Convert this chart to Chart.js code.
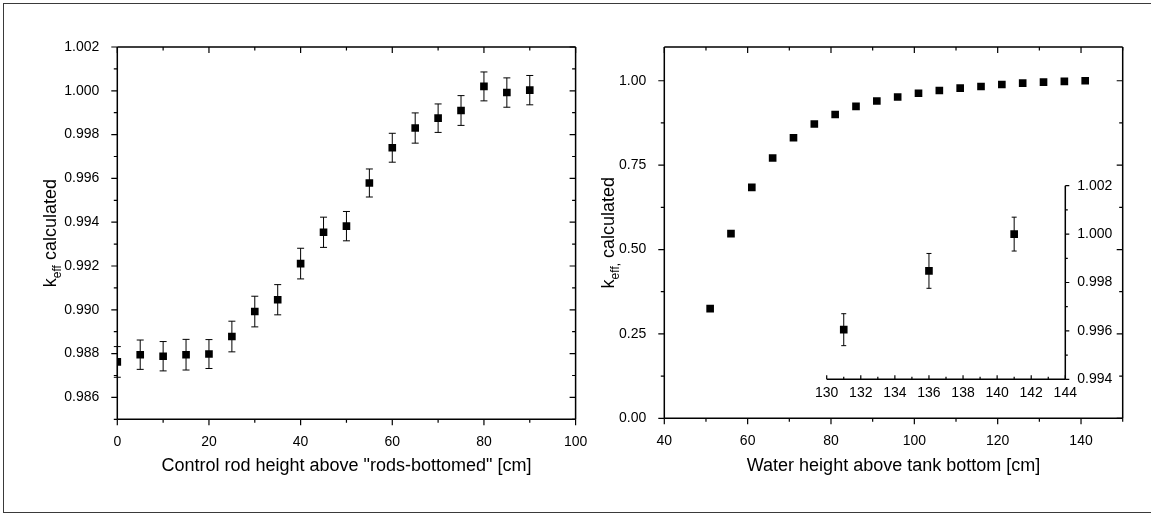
<!DOCTYPE html>
<html>
<head>
<meta charset="utf-8">
<script src="https://cdn.jsdelivr.net/npm/chart.js@4.4.0/dist/chart.umd.min.js"></script>
<style>
  html, body { margin: 0; padding: 0; background: #fff; }
  body { width: 1151px; height: 514px; position: relative; overflow: hidden; }
  #frame { position: absolute; left: 3px; top: 3px; width: 1160px; height: 508px; border: 1px solid #3a3a3a; }
  canvas { position: absolute; }
</style>
</head>
<body>
<div id="frame"></div>
<canvas id="chartRod" width="600" height="514" style="left:0;top:0"></canvas>
<canvas id="chartWater" width="551" height="514" style="left:600px;top:0"></canvas>
<canvas id="chartInset" width="391" height="260" style="left:760px;top:160px"></canvas>
<script>
// ---- data ----
const rodHeight = [0, 5, 10, 15, 20, 25, 30, 35, 40, 45, 50, 55, 60, 65, 70, 75, 80, 85, 90];
const rodKeff = [0.98762, 0.98795, 0.98788, 0.98795, 0.98798, 0.98878, 0.98992, 0.99046, 0.99211, 0.99354,
                 0.99382, 0.99579, 0.99740, 0.99830, 0.99875, 0.99910, 1.00020, 0.99992, 1.00003];
const rodErr = [0.00070, 0.00067, 0.00067, 0.00070, 0.00066, 0.00070, 0.00070, 0.00069, 0.00070, 0.00069,
                0.00067, 0.00064, 0.00066, 0.00069, 0.00065, 0.00068, 0.00066, 0.00067, 0.00067];

const waterHeight = [51, 56, 61, 66, 71, 76, 81, 86, 91, 96, 101, 106, 111, 116, 121, 126, 131, 136, 141];
const waterKeff = [0.325, 0.547, 0.684, 0.771, 0.831, 0.872, 0.900, 0.924, 0.940, 0.952,
                   0.963, 0.971, 0.978, 0.983, 0.989, 0.993, 0.996, 0.998, 1.000];

const insetHeight = [131, 136, 141];
const insetKeff = [0.99605, 0.99848, 1.00000];
const insetErr = [0.00066, 0.00072, 0.00070];

// tick labels
const rodXTicks = [0, 20, 40, 60, 80, 100];
const rodYTicks = [0.986, 0.988, 0.990, 0.992, 0.994, 0.996, 0.998, 1.000, 1.002];
const waterXTicks = [40, 60, 80, 100, 120, 140];
const waterYTicks = [0.00, 0.25, 0.50, 0.75, 1.00];
const insetXTicks = [130, 132, 134, 136, 138, 140, 142, 144];
const insetYTicks = [0.994, 0.996, 0.998, 1.000, 1.002];

const FONT = "'Liberation Sans', Arial, sans-serif";
Chart.defaults.font.family = FONT;
Chart.defaults.color = '#000';

const toPoints = (xs, ys) => xs.map((x, i) => ({ x: x, y: ys[i] }));
const fixTicks = (arr) => (scale) => { scale.ticks = arr.map(v => ({ value: v })); };

// minor tick positions between scale min and max
function minorValues(scale, step) {
    const out = [];
    const n = Math.floor((scale.max - scale.min) / step + 1e-6);
    for (let i = 0; i <= n; i++) out.push(scale.min + i * step);
    return out;
}

// axis lines, inward/outward ticks, error bars and the y title
const originAxes = {
    id: 'originAxes',
    beforeDatasetsDraw(chart, args, opts) {
        const ctx = chart.ctx;
        const xs = chart.scales.x, ys = chart.scales.y;
        ctx.save();
        ctx.strokeStyle = '#000';
        ctx.lineWidth = 1;
        chart.data.datasets.forEach(ds => {
            if (!ds.errors) return;
            ds.data.forEach((p, i) => {
                const e = ds.errors[i];
                const px = xs.getPixelForValue(p.x);
                const y1 = ys.getPixelForValue(p.y - e);
                const y2 = ys.getPixelForValue(p.y + e);
                const c = opts.cap;
                ctx.beginPath();
                ctx.moveTo(px, y1); ctx.lineTo(px, y2);
                ctx.moveTo(px - c, y1); ctx.lineTo(px + c, y1);
                ctx.moveTo(px - c, y2); ctx.lineTo(px + c, y2);
                ctx.stroke();
            });
        });
        ctx.restore();
    },
    afterDraw(chart, args, opts) {
        const ctx = chart.ctx;
        const a = chart.chartArea;
        const xs = chart.scales.x, ys = chart.scales.y;
        ctx.save();
        ctx.strokeStyle = '#000';
        ctx.lineWidth = 1.5;
        ctx.beginPath();
        opts.sides.forEach(s => {
            if (s === 'bottom') { ctx.moveTo(a.left, a.bottom); ctx.lineTo(a.right, a.bottom); }
            if (s === 'top') { ctx.moveTo(a.left, a.top); ctx.lineTo(a.right, a.top); }
            if (s === 'left') { ctx.moveTo(a.left, a.top); ctx.lineTo(a.left, a.bottom); }
            if (s === 'right') { ctx.moveTo(a.right, a.top); ctx.lineTo(a.right, a.bottom); }
        });
        ctx.stroke();

        ctx.lineWidth = 1.2;
        ctx.beginPath();
        const majX = xs.ticks.map(t => t.value), majY = ys.ticks.map(t => t.value);
        const minX = minorValues(xs, opts.minorX), minY = minorValues(ys, opts.minorY);
        opts.ticks.forEach(t => {
            const dir = t.out ? 1 : -1;
            const horiz = t.side === 'bottom' || t.side === 'top';
            const scale = horiz ? xs : ys;
            const base = a[t.side];
            const sign = (t.side === 'bottom' || t.side === 'right') ? dir : -dir;
            [[majX, majY, opts.major], [minX, minY, opts.minor]].forEach(([vx, vy, len]) => {
                (horiz ? vx : vy).forEach(v => {
                    const p = scale.getPixelForValue(v);
                    if (horiz) { ctx.moveTo(p, base); ctx.lineTo(p, base + sign * len); }
                    else { ctx.moveTo(base, p); ctx.lineTo(base + sign * len, p); }
                });
            });
        });
        ctx.stroke();

        // y axis title with subscript
        if (opts.yTitle) {
            const t = opts.yTitle;
            const big = '18px ' + FONT, small = '12px ' + FONT;
            ctx.fillStyle = '#000';
            ctx.textBaseline = 'alphabetic';
            ctx.font = big; const wK = ctx.measureText('k').width;
            const wRest = ctx.measureText(t.rest).width;
            ctx.font = small; const wSub = ctx.measureText(t.sub).width;
            const total = wK + wSub + wRest;
            ctx.translate(t.x, (a.top + a.bottom) / 2);
            ctx.rotate(-Math.PI / 2);
            let x = -total / 2;
            ctx.font = big; ctx.fillText('k', x, 0); x += wK;
            ctx.font = small; ctx.fillText(t.sub, x, 5); x += wSub;
            ctx.font = big; ctx.fillText(t.rest, x, 0);
        }
        ctx.restore();
    }
};

function scatterCfg(opt) {
    return {
        type: 'scatter',
        data: {
            datasets: [{
                data: opt.data,
                errors: opt.errors,
                pointStyle: 'rect',
                pointRadius: 5.4,
                pointHoverRadius: 5.4,
                pointBorderWidth: 0,
                backgroundColor: '#000',
                borderColor: '#000'
            }]
        },
        options: {
            responsive: false,
            animation: false,
            events: [],
            layout: { padding: opt.padding },
            plugins: {
                legend: { display: false },
                tooltip: { enabled: false },
                originAxes: opt.axes
            },
            scales: {
                x: {
                    type: 'linear',
                    min: opt.xMin, max: opt.xMax,
                    afterBuildTicks: fixTicks(opt.xTicks),
                    afterFit: (s) => { s.height = opt.xHeight; },
                    grid: { display: false },
                    border: { display: false },
                    ticks: { font: { size: opt.tickSize }, padding: opt.xPad, maxRotation: 0, autoSkip: false,
                             callback: (v) => String(v) },
                    title: opt.xTitle ? {
                        display: true, text: opt.xTitle, font: { size: 18 },
                        padding: { top: 0, bottom: 37 }
                    } : { display: false }
                },
                y: {
                    type: 'linear',
                    position: opt.yPos || 'left',
                    min: opt.yMin, max: opt.yMax,
                    afterBuildTicks: fixTicks(opt.yTicks),
                    afterFit: (s) => { s.width = opt.yWidth; },
                    grid: { display: false },
                    border: { display: false },
                    ticks: { font: { size: opt.tickSize }, padding: opt.yPad, autoSkip: false,
                             callback: (v) => v.toFixed(opt.yDigits) }
                }
            }
        },
        plugins: [originAxes]
    };
}

const mainTicks = [
    { side: 'bottom', out: true }, { side: 'left', out: true },
    { side: 'top', out: false }, { side: 'right', out: false }
];

new Chart(document.getElementById('chartRod'), scatterCfg({
    data: toPoints(rodHeight, rodKeff), errors: rodErr,
    padding: { left: 0, top: 47, right: 24.4, bottom: 0 },
    xMin: 0, xMax: 100, xTicks: rodXTicks, xHeight: 94.7, xPad: 6,
    yMin: 0.985, yMax: 1.002, yTicks: rodYTicks, yWidth: 117.3, yPad: 10, yDigits: 3,
    tickSize: 14,
    xTitle: 'Control rod height above "rods-bottomed" [cm]',
    axes: { sides: ['bottom', 'left', 'top', 'right'], ticks: mainTicks, minorX: 10, minorY: 0.001,
            major: 6, minor: 3.5, cap: 3.5, yTitle: { x: 56, sub: 'eff', rest: ' calculated' } }
}));

new Chart(document.getElementById('chartWater'), scatterCfg({
    data: toPoints(waterHeight, waterKeff),
    padding: { left: 0, top: 47, right: 28.3, bottom: 0 },
    xMin: 40, xMax: 150, xTicks: waterXTicks, xHeight: 95.7, xPad: 6,
    yMin: 0, yMax: 1.1, yTicks: waterYTicks, yWidth: 64.3, yPad: 10, yDigits: 2,
    tickSize: 14,
    xTitle: 'Water height above tank bottom [cm]',
    axes: { sides: ['bottom', 'left', 'top', 'right'], ticks: mainTicks, minorX: 10, minorY: 0.125,
            major: 6, minor: 3.5, cap: 3.5, yTitle: { x: 14, sub: 'eff,', rest: ' calculated' } }
}));

new Chart(document.getElementById('chartInset'), scatterCfg({
    data: toPoints(insetHeight, insetKeff), errors: insetErr,
    padding: { left: 66.7, top: 25.7, right: 0, bottom: 0 },
    xMin: 130, xMax: 144, xTicks: insetXTicks, xHeight: 40.7, xPad: -3,
    yMin: 0.994, yMax: 1.002, yTicks: insetYTicks, yWidth: 85.7, yPad: 4, yDigits: 3, yPos: 'right',
    tickSize: 14,
    axes: { sides: ['bottom', 'right'],
            ticks: [{ side: 'bottom', out: false }, { side: 'right', out: true }],
            minorX: 1, minorY: 0.001, major: 4, minor: 2.5, cap: 2.5 }
}));
</script>
</body>
</html>
